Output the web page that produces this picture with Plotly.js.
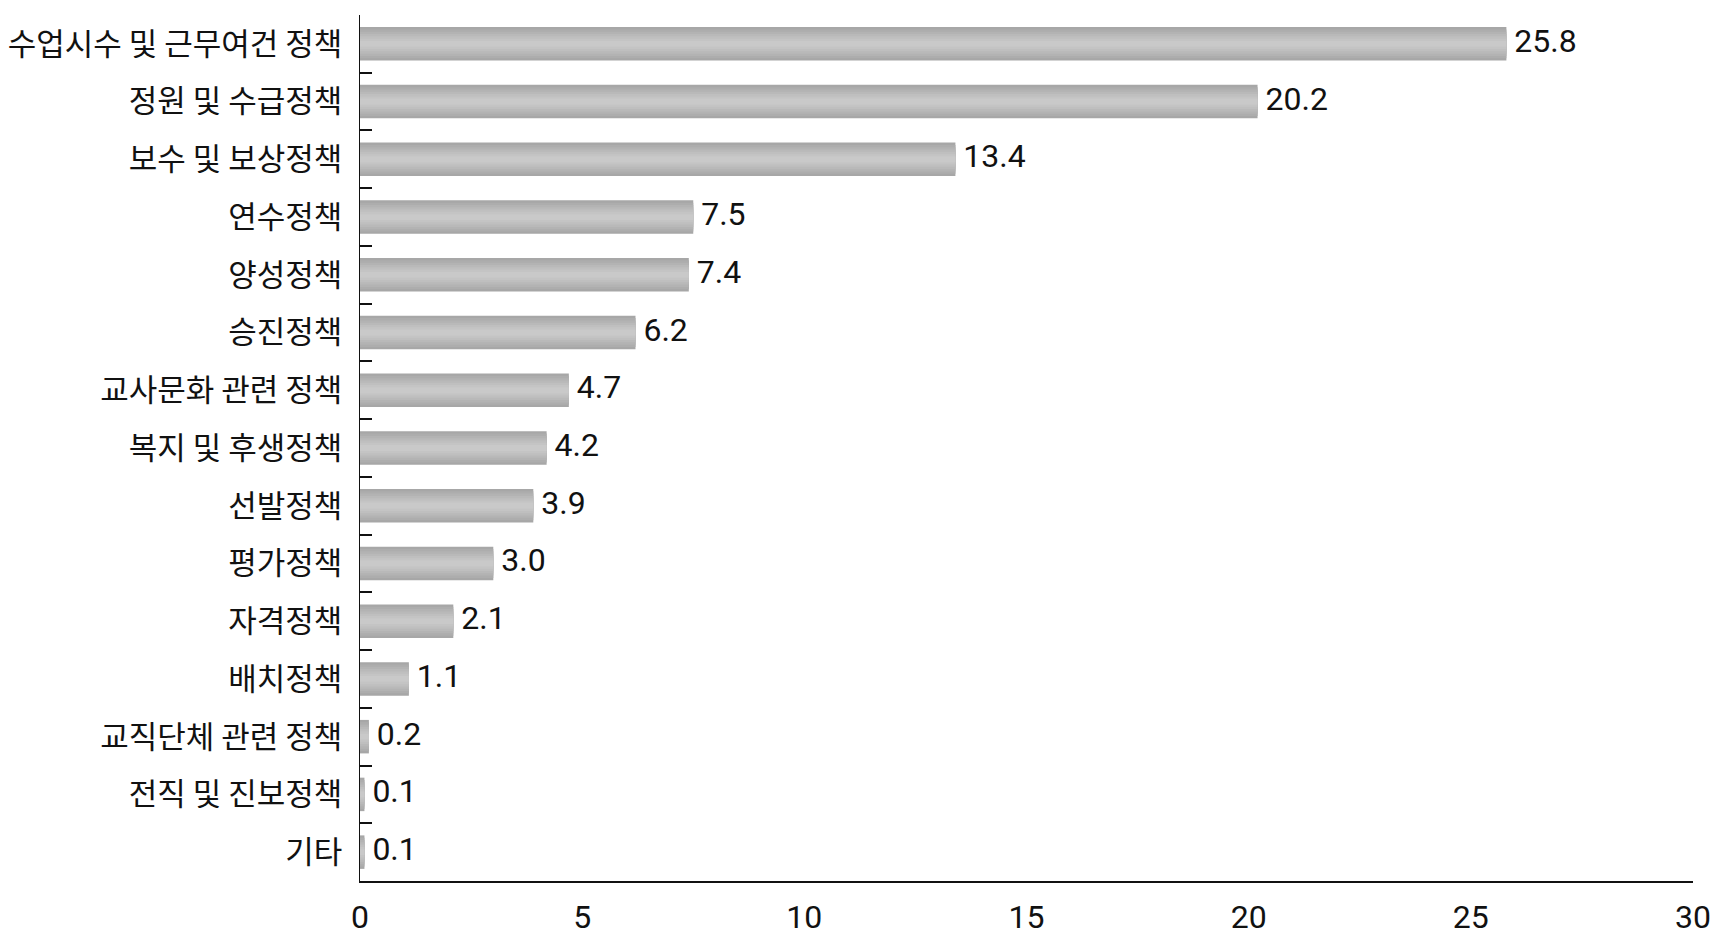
<!DOCTYPE html>
<html>
<head>
<meta charset="utf-8">
<script src="https://cdn.plot.ly/plotly-3.0.1.min.js"></script>
<style>
  html, body { margin: 0; padding: 0; background: #ffffff; }
  #chart { width: 1724px; height: 945px; }
</style>
</head>
<body>
<div id="chart"></div>
<script>
const categories = [
  "수업시수 및 근무여건 정책",
  "정원 및 수급정책",
  "보수 및 보상정책",
  "연수정책",
  "양성정책",
  "승진정책",
  "교사문화 관련 정책",
  "복지 및 후생정책",
  "선발정책",
  "평가정책",
  "자격정책",
  "배치정책",
  "교직단체 관련 정책",
  "전직 및 진보정책",
  "기타"
];
const values = [25.8, 20.2, 13.4, 7.5, 7.4, 6.2, 4.7, 4.2, 3.9, 3.0, 2.1, 1.1, 0.2, 0.1, 0.1];
const xTicks = [0, 5, 10, 15, 20, 25, 30];

// gradient simulated by overlaid bars of decreasing thickness (style only)
const layers = [
  {w: 0.58, c: "#a7a7a7"},
  {w: 0.50, c: "#adadad"},
  {w: 0.42, c: "#b3b3b3"},
  {w: 0.34, c: "#b9b9b9"},
  {w: 0.26, c: "#bfbfbf"},
  {w: 0.18, c: "#c4c4c4"},
  {w: 0.10, c: "#c9c9c9"}
];

const traces = layers.map((L) => ({
  type: "bar",
  orientation: "h",
  x: values,
  y: categories,
  width: L.w,
  marker: {color: L.c, line: {width: 0}},
  hoverinfo: "skip",
  showlegend: false
}));

traces.push({
  type: "scatter",
  mode: "text",
  x: values,
  y: categories,
  text: values.map(v => "\u00a0" + v.toFixed(1)),
  textposition: "middle right",
  textfont: {family: "Roboto, 'Noto Sans CJK KR', sans-serif", size: 32, color: "#111111"},
  cliponaxis: false,
  hoverinfo: "skip",
  showlegend: false
});

const layout = {
  width: 1724,
  height: 945,
  margin: {l: 360, r: 31, t: 15, b: 64},
  paper_bgcolor: "#ffffff",
  plot_bgcolor: "#ffffff",
  barmode: "overlay",
  font: {family: "'Noto Sans CJK KR', sans-serif", color: "#111111"},
  xaxis: {
    range: [0, 30],
    tickvals: xTicks,
    ticktext: xTicks.map(String),
    ticks: "",
    showgrid: false,
    zeroline: false,
    showline: true,
    linecolor: "#111111",
    linewidth: 1.5,
    ticklabelstandoff: 7,
    tickfont: {family: "Roboto, 'Noto Sans CJK KR', sans-serif", size: 32, color: "#111111"}
  },
  yaxis: {
    type: "category",
    range: [categories.length - 0.5, -0.5],
    showgrid: false,
    zeroline: false,
    showline: true,
    linecolor: "#111111",
    linewidth: 1.5,
    ticks: "inside",
    tickson: "boundaries",
    ticklen: 12,
    tickwidth: 2,
    tickcolor: "#111111",
    ticklabelstandoff: 10,
    tickfont: {family: "'Noto Sans CJK KR', sans-serif", size: 31, color: "#111111"}
  }
};

Plotly.newPlot("chart", traces, layout, {displayModeBar: false, staticPlot: true});
</script>
</body>
</html>
